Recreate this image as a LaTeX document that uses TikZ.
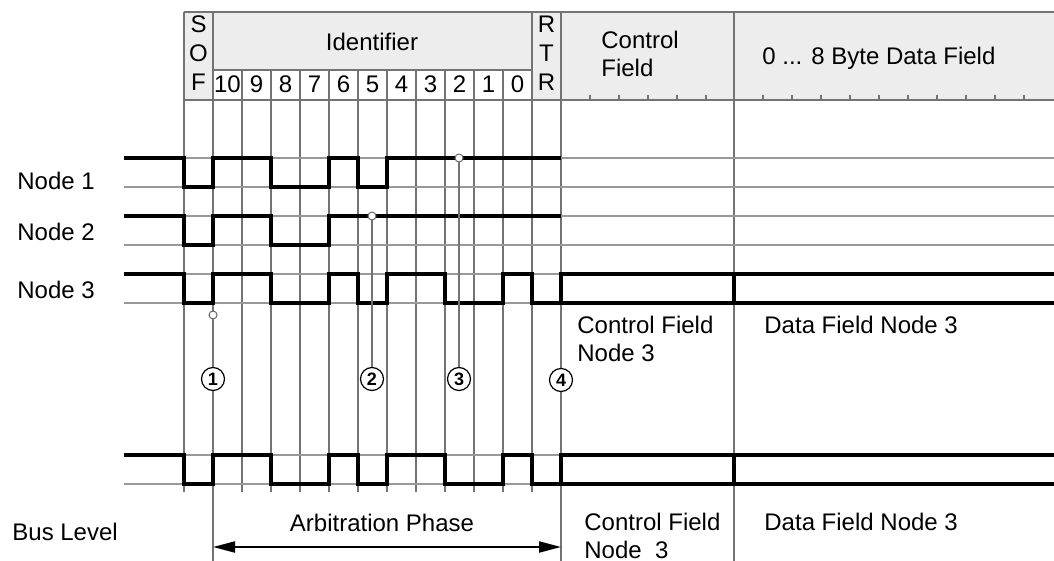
\documentclass[tikz,border=0pt]{standalone}
\usepackage{fontspec}
\setmainfont{Liberation Sans}
\usetikzlibrary{arrows.meta}

\begin{document}
\begin{tikzpicture}[
    x=0.5pt, y=-0.5pt,
    every node/.style={font=\fontsize{12}{14}\selectfont, inner sep=0pt},
    gridline/.style={draw=black!55, line width=0.6pt},
    refline/.style={draw=black!40, line width=0.7pt},
    fieldline/.style={draw=black!55, line width=1pt},
    signal/.style={line width=1.7pt, line join=miter},
    numcirc/.style={circle, draw, fill=white, line width=0.6pt, minimum size=11.5pt, inner sep=0pt, font=\fontsize{9}{9}\selectfont\bfseries},
    dot/.style={circle, draw=black!60, fill=white, line width=0.5pt, minimum size=4pt, inner sep=0pt},
    arbarrow/.style={{Triangle[length=11pt,width=5.5pt]}-{Triangle[length=11pt,width=5.5pt]}, line width=1pt}
]
\useasboundingbox (0,0) rectangle (1054,561);

% --- frame header ---
\fill[black!7] (184,12) rectangle (1054,100);
\fill[white] (213,70) rectangle (532,100);
\draw[gridline] (184,12) -- (1054,12);
\draw[gridline] (184,100) -- (1054,100);
\draw[gridline] (213,70) -- (532,70);
\foreach \x in {590,619,...,706} \draw[gridline] (\x,95) -- (\x,100);
\foreach \x in {763,792,...,1050} \draw[gridline] (\x,95) -- (\x,100);

% --- bit grid ---
\foreach \x in {184,532} \draw[gridline] (\x,12) -- (\x,492);
\foreach \x in {242,271,...,503} \draw[gridline] (\x,70) -- (\x,492);
\draw[gridline] (213,12) -- (213,561);
\draw[fieldline] (561,12) -- (561,561);
\draw[fieldline] (734,12) -- (734,561);

% --- level lines ---
\foreach \y in {158,187,216,245,274,303,455,484} \draw[refline] (124,\y) -- (1054,\y);

% --- signals ---
\draw[signal] (124,158) -| (184,187) -| (213,158) -| (271,187) -| (329,158) -| (358,187) -| (387,158) -- (561,158);
\draw[signal] (124,216) -| (184,245) -| (213,216) -| (271,245) -| (329,216) -- (561,216);
\draw[signal] (124,274) -| (184,303) -| (213,274) -| (271,303) -| (329,274) -| (358,303) -| (387,274) -| (445,303) -| (503,274) -| (532,303) -| (561,274) -- (1054,274);
\draw[signal] (561,303) -- (1054,303);
\draw[signal] (734,274) -- (734,303);
\draw[signal] (124,455) -| (184,484) -| (213,455) -| (271,484) -| (329,455) -| (358,484) -| (387,455) -| (445,484) -| (503,455) -| (532,484) -| (561,455) -- (1054,455);
\draw[signal] (561,484) -- (1054,484);
\draw[signal] (734,455) -- (734,484);

% --- header texts ---
\node[align=center, font=\fontsize{12}{14.5}\selectfont] (sof) at (198.5,53) {S\\O\\F};
\node (ident) at (372,42) {Identifier};
\node[align=center, font=\fontsize{12}{14.5}\selectfont] (rtr) at (546.5,53) {R\\T\\R};
\foreach \b [count=\i from 0] in {10,9,...,0}
    \node (bit\b) at (227.5+29*\i,84) {\b};
\node[anchor=west, align=left] (ctrlhdr) at (601,54) {Control\\Field};
\node[anchor=west] (datahdr) at (762,58) {0 ... 8 Byte Data Field};

% --- row labels ---
\node[anchor=west] (lbl1) at (17,181) {Node 1};
\node[anchor=west] (lbl2) at (17,232) {Node 2};
\node[anchor=west] (lbl3) at (17,290) {Node 3};
\node[anchor=west] (lblbus) at (12,532) {Bus Level};

% --- markers ---
\node[dot] (dot1) at (213,315) {};
\node[dot] (dot2) at (372,216) {};
\node[dot] (dot3) at (459,158) {};
\node[numcirc] (num1) at (213,379) {1};
\node[numcirc] (num2) at (372,379) {2};
\node[numcirc] (num3) at (459,379) {3};
\node[numcirc] (num4) at (561,380) {4};
\draw[gridline] (dot1) -- (num1);
\draw[gridline] (dot2) -- (num2);
\draw[gridline] (dot3) -- (num3);

% --- field texts ---
\node[anchor=west, align=left] (ctrl3) at (577,339) {Control Field\\Node 3};
\node[anchor=west] (data3) at (764,325) {Data Field Node 3};
\node[anchor=west, align=left] (ctrlbus) at (584,536) {Control Field\\Node\ \ 3};
\node[anchor=west] (databus) at (764,522) {Data Field Node 3};

% --- arbitration phase ---
\coordinate (arbl) at (213,547);
\coordinate (arbr) at (561,547);
\draw[arbarrow] (arbl) -- (arbr);
\node (arbtxt) at (382,523) {Arbitration Phase};

\end{tikzpicture}
\end{document}
